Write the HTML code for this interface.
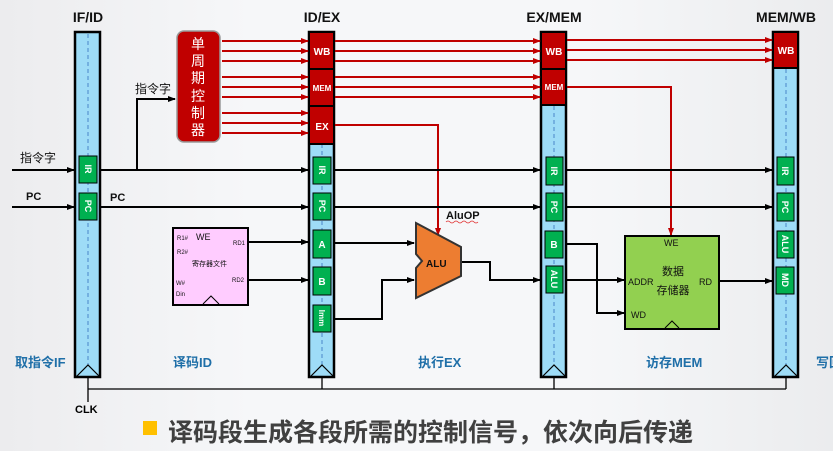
<!DOCTYPE html>
<html><head><meta charset="utf-8"><style>
html,body{margin:0;padding:0;width:833px;height:451px;overflow:hidden}
body{background:linear-gradient(90deg,#ececee 0%,#f6f7f9 30%,#f6f7f9 70%,#ebecee 100%)}
text{font-family:"Liberation Sans","Noto Sans CJK SC",sans-serif}
</style></head><body>
<svg width="833" height="451" viewBox="0 0 833 451" xmlns="http://www.w3.org/2000/svg">
<defs>
<marker id="ab" markerWidth="8" markerHeight="8" refX="7" refY="4" orient="auto" markerUnits="userSpaceOnUse"><path d="M0,1 L8,4 L0,7 z" fill="#000"/></marker>
<marker id="ar" markerWidth="8" markerHeight="8" refX="7" refY="4" orient="auto" markerUnits="userSpaceOnUse"><path d="M0,1 L8,4 L0,7 z" fill="#c00000"/></marker>
</defs>

<!-- header labels -->
<g font-weight="bold" font-size="14" fill="#111" text-anchor="middle">
<text x="88" y="22">IF/ID</text>
<text x="322" y="22">ID/EX</text>
<text x="554" y="22">EX/MEM</text>
<text x="786" y="22">MEM/WB</text>
</g>

<!-- clock -->
<g stroke="#000" stroke-width="1.3" fill="none">
<path d="M88,377 V402 M322,377 V389 M554,377 V389 M786,377 V389 M88,389 H786"/>
</g>
<text x="75" y="413" font-size="11" font-weight="bold">CLK</text>

<!-- bars -->
<g stroke="#000" stroke-width="2.5" fill="#9edcf7">
<rect x="75" y="32" width="25" height="345"/>
<rect x="309" y="32" width="25" height="345"/>
<rect x="541" y="32" width="25" height="345"/>
<rect x="773" y="32" width="25" height="345"/>
</g>
<g stroke="#4a86c8" stroke-width="1" stroke-dasharray="4,3">
<path d="M88,34 V365 M322,144 V365 M554,106 V365 M786,69 V365"/>
</g>
<g stroke="#000" stroke-width="1.2" fill="none">
<path d="M76,377 L88,365 L100,377 M310,377 L322,365 L334,377 M542,377 L554,365 L566,377 M774,377 L786,365 L798,377"/>
</g>

<!-- red control boxes -->
<g fill="#c00000" stroke="#000" stroke-width="2">
<rect x="309" y="32" width="25" height="37"/>
<rect x="309" y="69" width="25" height="37"/>
<rect x="309" y="106" width="25" height="38"/>
<rect x="541" y="32" width="25" height="37"/>
<rect x="541" y="69" width="25" height="36"/>
<rect x="773" y="32" width="25" height="36"/>
</g>
<g fill="#fff" font-weight="bold" text-anchor="middle">
<text x="322" y="55" font-size="10">WB</text>
<text x="322" y="91" font-size="8">MEM</text>
<text x="322" y="130" font-size="10">EX</text>
<text x="554" y="55" font-size="10">WB</text>
<text x="554" y="90" font-size="8">MEM</text>
<text x="786" y="54" font-size="10">WB</text>
</g>

<!-- controller -->
<rect x="177" y="31" width="43" height="111" rx="7" fill="#c00000" stroke="#999" stroke-width="1.5"/>
<g fill="#fff" font-size="14" text-anchor="middle">
<text x="198" y="49">单</text><text x="198" y="66">周</text><text x="198" y="83">期</text>
<text x="198" y="101">控</text><text x="198" y="118">制</text><text x="198" y="135">器</text>
</g>

<!-- red lines -->
<g stroke="#c00000" stroke-width="2" fill="none" marker-end="url(#ar)">
<path d="M222,41 H308"/><path d="M222,51 H308"/><path d="M222,61 H308"/>
<path d="M222,77 H308"/><path d="M222,87 H308"/><path d="M222,97 H308"/>
<path d="M222,113 H308"/><path d="M222,123 H308"/><path d="M222,133 H308"/>
<path d="M335,41 H540"/><path d="M335,51 H540"/><path d="M335,61 H540"/>
<path d="M335,77 H540"/><path d="M335,87 H540"/><path d="M335,97 H540"/>
<path d="M567,40 H772"/><path d="M567,50 H772"/><path d="M567,60 H772"/>
<path d="M335,125 H438 V235"/>
<path d="M567,87 H671 V235"/>
</g>

<!-- black signal lines -->
<g stroke="#000" stroke-width="2" fill="none" marker-end="url(#ab)">
<path d="M12,170 H74"/><path d="M12,207 H74"/>
<path d="M100,170 H308"/><path d="M137,170 V99 H175"/>
<path d="M100,207 H308"/>
<path d="M334,170 H540"/><path d="M334,207 H540"/>
<path d="M566,170 H772"/><path d="M566,207 H772"/>
<path d="M248,242 H308"/><path d="M248,280 H308"/>
<path d="M335,243 H414"/>
<path d="M335,319 H382 V280 H414"/>
<path d="M462,262 H490 V280 H540"/>
<path d="M566,244 H597 V313 H624"/>
<path d="M566,280 H624"/>
<path d="M720,281 H772"/>
</g>

<!-- green boxes -->
<g fill="#00b050" stroke="#000" stroke-width="1">
<rect x="79" y="156" width="18" height="27"/><rect x="79" y="193" width="18" height="27"/>
<rect x="313" y="157" width="18" height="27"/><rect x="313" y="193" width="18" height="27"/>
<rect x="313" y="230" width="18" height="28"/><rect x="313" y="267" width="18" height="28"/>
<rect x="313" y="305" width="18" height="27"/>
<rect x="546" y="157" width="17" height="28"/><rect x="546" y="193" width="17" height="28"/>
<rect x="545" y="231" width="18" height="27"/><rect x="546" y="266" width="17" height="27"/>
<rect x="777" y="157" width="17" height="28"/><rect x="777" y="193" width="17" height="28"/>
<rect x="777" y="231" width="17" height="27"/><rect x="776" y="267" width="18" height="27"/>
</g>
<g fill="#fff" font-weight="bold" font-size="9" text-anchor="middle">
<text transform="translate(85,169) rotate(90)">IR</text>
<text transform="translate(85,206) rotate(90)">PC</text>
<text transform="translate(319,170) rotate(90)">IR</text>
<text transform="translate(319,206) rotate(90)">PC</text>
<text x="322" y="248" font-size="10">A</text>
<text x="322" y="285" font-size="10">B</text>
<text transform="translate(319,318) rotate(90)" font-size="8">Imm</text>
<text transform="translate(551,171) rotate(90)">IR</text>
<text transform="translate(551,207) rotate(90)">PC</text>
<text x="554" y="248" font-size="10">B</text>
<text transform="translate(551,279) rotate(90)">ALU</text>
<text transform="translate(782,171) rotate(90)">IR</text>
<text transform="translate(782,207) rotate(90)">PC</text>
<text transform="translate(782,244) rotate(90)">ALU</text>
<text transform="translate(782,280) rotate(90)">MD</text>
</g>

<!-- labels -->
<g font-size="12" fill="#111">
<text x="20" y="162">指令字</text>
<text x="135" y="93">指令字</text>
</g>
<g font-size="11" font-weight="bold" fill="#111">
<text x="26" y="200">PC</text>
<text x="110" y="201">PC</text>
<text x="446" y="219">AluOP</text>
</g>
<path d="M446,222 q2,-2 4,0 t4,0 t4,0 t4,0 t4,0 t4,0 t4,0 t4,0" stroke="#e03030" stroke-width="0.8" fill="none"/>

<!-- register file -->
<rect x="173" y="228" width="75" height="77" fill="#ffccff" stroke="#000" stroke-width="2"/>
<path d="M203,304 L211,296 L219,304" stroke="#000" fill="#ffccff" stroke-width="1"/>
<g font-size="6" fill="#111">
<text x="177" y="240">R1#</text><text x="177" y="254">R2#</text>
<text x="176" y="285">W#</text><text x="176" y="296">Din</text>
<text x="233" y="245">RD1</text><text x="232" y="282">RD2</text>
<text x="192" y="266" font-size="7">寄存器文件</text>
</g>
<text x="196" y="240" font-size="9" fill="#111">WE</text>

<!-- ALU -->
<polygon points="416,223 461,247 461,276 416,298 416,268 422,261 416,254" fill="#ed7d31" stroke="#333" stroke-width="2"/>
<text x="426" y="267" font-size="10" font-weight="bold" fill="#111">ALU</text>

<!-- data memory -->
<rect x="625" y="236" width="94" height="93" fill="#92d050" stroke="#000" stroke-width="2"/>
<path d="M665,328 L672,321 L679,328" stroke="#000" fill="none" stroke-width="1"/>
<g font-size="9" fill="#111">
<text x="664" y="246">WE</text>
<text x="628" y="285">ADDR</text>
<text x="699" y="285">RD</text>
<text x="631" y="318">WD</text>
</g>
<g font-size="11" fill="#111" text-anchor="middle">
<text x="673" y="275">数据</text><text x="673" y="294">存储器</text>
</g>

<!-- stage labels -->
<g font-size="13" font-weight="bold" fill="#1f6fa8">
<text x="15" y="367">取指令IF</text>
<text x="173" y="367">译码ID</text>
<text x="418" y="367">执行EX</text>
<text x="646" y="367">访存MEM</text>
<text x="816" y="367">写回WB</text>
</g>

<!-- bottom -->
<rect x="143" y="421" width="14" height="14" fill="#ffc000"/>
<text x="168" y="441" font-size="25" font-weight="bold" fill="#404040">译码段生成各段所需的控制信号，依次向后传递</text>
</svg>
</body></html>
